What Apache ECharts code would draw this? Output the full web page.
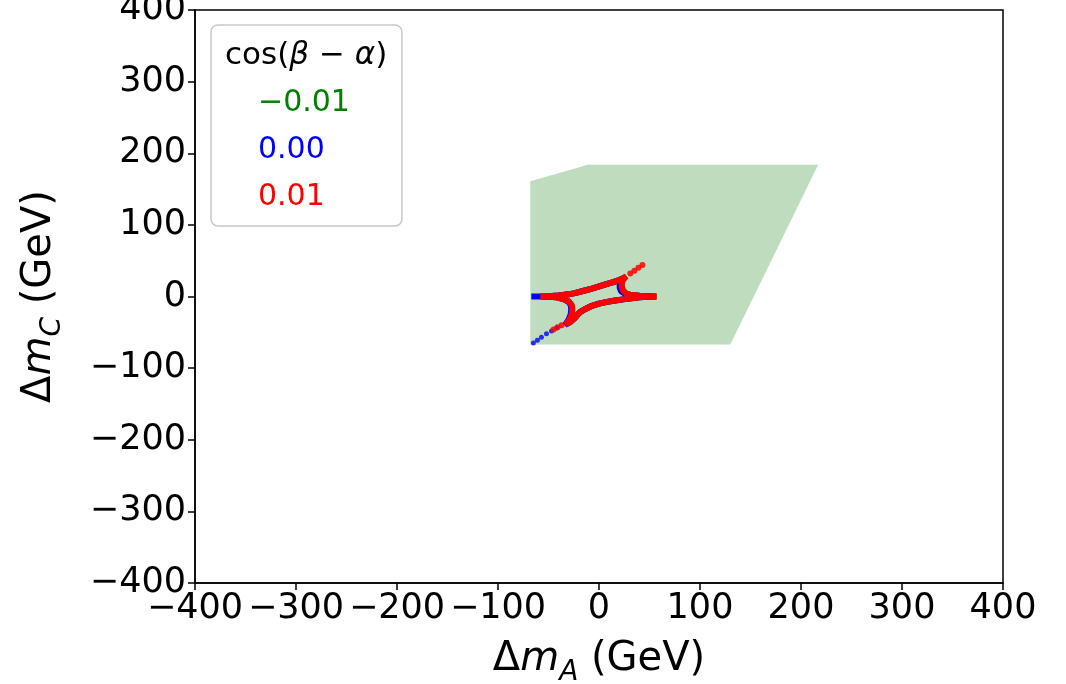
<!DOCTYPE html>
<html>
<head>
<meta charset="utf-8">
<script src="https://cdn.jsdelivr.net/npm/echarts@6/dist/echarts.min.js"></script>
<style>
  html, body { margin: 0; padding: 0; background: #fff; }
  #chart { width: 1066px; height: 684px; }
</style>
</head>
<body>
<div id="chart"></div>
<script>
// ---- data (GeV) ----
const xTicks = [-400, -300, -200, -100, 0, 100, 200, 300, 400];
const yTicks = [-400, -300, -200, -100, 0, 100, 200, 300, 400];
const legendNames = ['\u22120.01', '0.00', '0.01'];

// allowed region (green shaded polygon)
const regionX = [-68, -11, 217, 130, -68];
const regionY = [161, 184, 184, -67, -67];

// cos(beta-alpha) = 0.01 (red) closed contour
const redX = [-58, -50, -40, -30, -23, -15, -7, 1, 9, 15, 20, 24, 27,
              24, 22.5, 22.5, 24, 27, 32, 40, 48, 57,
              48, 40, 32, 24, 16, 8, 0, -7, -13, -18, -21, -24, -28, -33,
              -29, -27, -26.5, -27, -30, -35, -42, -50, -58];
const redY = [0, 0.5, 1.5, 3, 5, 8, 11, 14.5, 18, 20.5, 23, 25.5, 28,
              24, 19, 13, 8, 4, 2, 1, 0.5, 0,
              -0.5, -1.2, -2.5, -4, -5.5, -7.5, -10, -13, -17, -21, -25, -30, -35, -39,
              -32, -25, -18, -12, -7, -3.5, -1.2, -0.3, 0];
// red isolated points
const redDotsX = [31, 35, 39, 43, -37, -41, -45];
const redDotsY = [32, 36, 40, 44, -40, -43, -46];

// cos(beta-alpha) = 0.00 (blue) contour
const blueX = [-67, -58, -50, -40, -30, -23, -15, -7, 1, 9, 15, 20, 24, 26,
               22, 20.5, 20.5, 22, 26, 32, 40, 48, 56,
               48, 40, 32, 24, 16, 8, 0, -7, -13, -18, -21, -24, -28, -33.5,
               -30, -28, -27.5, -28, -30.5, -35, -42, -50, -58];
const blueY = [0, 0, 0.5, 1.5, 3, 5, 8, 11, 14.5, 18, 20.5, 23, 25, 27,
               23, 18, 12, 7, 3.5, 1.8, 1, 0.5, 0,
               -0.5, -1.2, -2.5, -4, -5.5, -7.5, -10, -13, -17, -21, -25, -30, -35, -39.5,
               -32, -25, -18, -12, -7, -3.5, -1.2, -0.3, 0];
const blueDotsX = [-42, -47, -52, -57, -61, -65];
const blueDotsY = [-44, -48, -52, -57, -61, -65];

// cos(beta-alpha) = -0.01 (green) contour, hidden under the others
const greenX = redX.slice();
const greenY = redY.slice();

function pairs(xs, ys) { return xs.map((x, i) => [x, ys[i]]); }

const FONT = 'DejaVu Sans';
const TICK_FS = 35;
const NAME_FS = 40;

function axisName(sub) {
  return '{d|\u0394}{m|m}{s|' + sub + '}{t| (GeV)}';
}
const nameRich = {
  d: { fontFamily: FONT, fontSize: NAME_FS, color: '#000', lineHeight: 54 },
  m: { fontFamily: FONT, fontSize: NAME_FS, fontStyle: 'italic', color: '#000', lineHeight: 54 },
  s: { fontFamily: FONT, fontSize: 28, fontStyle: 'italic', color: '#000', lineHeight: 29, verticalAlign: 'bottom' },
  t: { fontFamily: FONT, fontSize: NAME_FS, color: '#000', lineHeight: 54 }
};

const chart = echarts.init(document.getElementById('chart'), null, { renderer: 'canvas' });

const option = {
  backgroundColor: '#fff',
  animation: false,
  grid: {
    left: 195, right: 63, top: 10, bottom: 101,
    outerBoundsMode: 'none', containLabel: false,
    show: true, borderColor: '#000', borderWidth: 1.5, backgroundColor: 'transparent'
  },
  xAxis: {
    type: 'value', min: xTicks[0], max: xTicks[xTicks.length - 1], interval: 100,
    name: axisName('A'), nameLocation: 'middle', nameGap: 50,
    nameTextStyle: { rich: nameRich },
    axisLine: { show: true, onZero: false, lineStyle: { color: '#000', width: 1.5 } },
    axisTick: { show: true, inside: false, length: 7, lineStyle: { color: '#000', width: 1.5 } },
    axisLabel: { color: '#000', fontFamily: FONT, fontSize: TICK_FS, margin: 8,
                 formatter: v => (v < 0 ? '\u2212' + Math.abs(v) : String(v)) },
    splitLine: { show: false }
  },
  yAxis: {
    type: 'value', min: yTicks[0], max: yTicks[yTicks.length - 1], interval: 100,
    name: axisName('C'), nameLocation: 'middle', nameGap: 128, nameRotate: 90,
    nameTextStyle: { rich: nameRich },
    axisLine: { show: true, onZero: false, lineStyle: { color: '#000', width: 1.5 } },
    axisTick: { show: true, inside: false, length: 7, lineStyle: { color: '#000', width: 1.5 } },
    axisLabel: { color: '#000', fontFamily: FONT, fontSize: TICK_FS, margin: 9,
                 formatter: v => (v < 0 ? '\u2212' + Math.abs(v) : String(v)) },
    splitLine: { show: false }
  },
  legend: {
    orient: 'vertical',
    left: 211, top: 25,
    padding: [63, 52, 13, 42],
    itemGap: 16,
    itemWidth: 0, itemHeight: 14,
    icon: 'none',
    backgroundColor: '#fff',
    borderColor: '#c8c8c8', borderWidth: 1.5, borderRadius: 7,
    selectedMode: false,
    textStyle: { fontFamily: FONT, fontSize: 30, lineHeight: 31, padding: [0, 0, 0, 0] },
    data: [
      { name: legendNames[0], textStyle: { color: '#008000' } },
      { name: legendNames[1], textStyle: { color: '#0000ff' } },
      { name: legendNames[2], textStyle: { color: '#ff0000' } }
    ]
  },
  graphic: [{
    type: 'text', left: 225, top: 40, z: 200,
    style: {
      text: '{n|cos(}{i|\u03b2}{n| \u2212 }{i|\u03b1}{n|)}',
      rich: {
        n: { fontFamily: FONT, fontSize: 31, fill: '#000' },
        i: { fontFamily: FONT, fontSize: 31, fontStyle: 'italic', fill: '#000' }
      }
    }
  }],
  series: [
    {
      type: 'custom', name: 'region', silent: true, z: 1,
      data: pairs(regionX, regionY),
      renderItem: function (params, api) {
        if (params.dataIndex !== 0) return null;
        const pts = regionX.map((x, i) => api.coord([x, regionY[i]]));
        return { type: 'polygon', shape: { points: pts }, style: { fill: '#bfdcbf', stroke: null } };
      }
    },
    {
      type: 'line', name: legendNames[0], data: pairs(greenX, greenY), color: '#008000',
      showSymbol: false, lineStyle: { width: 6, color: '#008000' }, z: 2, silent: true
    },
    {
      type: 'line', name: legendNames[1], data: pairs(blueX, blueY), color: '#0000ff',
      showSymbol: false, lineStyle: { width: 6, color: '#0000ff' }, z: 3, silent: true
    },
    {
      type: 'scatter', name: legendNames[1], data: pairs(blueDotsX, blueDotsY), color: '#0000ff',
      symbolSize: 5, itemStyle: { color: '#0000ff' }, z: 3, silent: true
    },
    {
      type: 'line', name: legendNames[2], data: pairs(redX, redY), color: '#ff0000',
      showSymbol: false, lineStyle: { width: 6, color: '#ff0000' }, z: 4, silent: true
    },
    {
      type: 'scatter', name: legendNames[2], data: pairs(redDotsX, redDotsY), color: '#ff0000',
      symbolSize: 6, itemStyle: { color: '#ff0000', opacity: 0.85 }, z: 4, silent: true
    }
  ]
};
chart.setOption(option);
</script>
</body>
</html>
